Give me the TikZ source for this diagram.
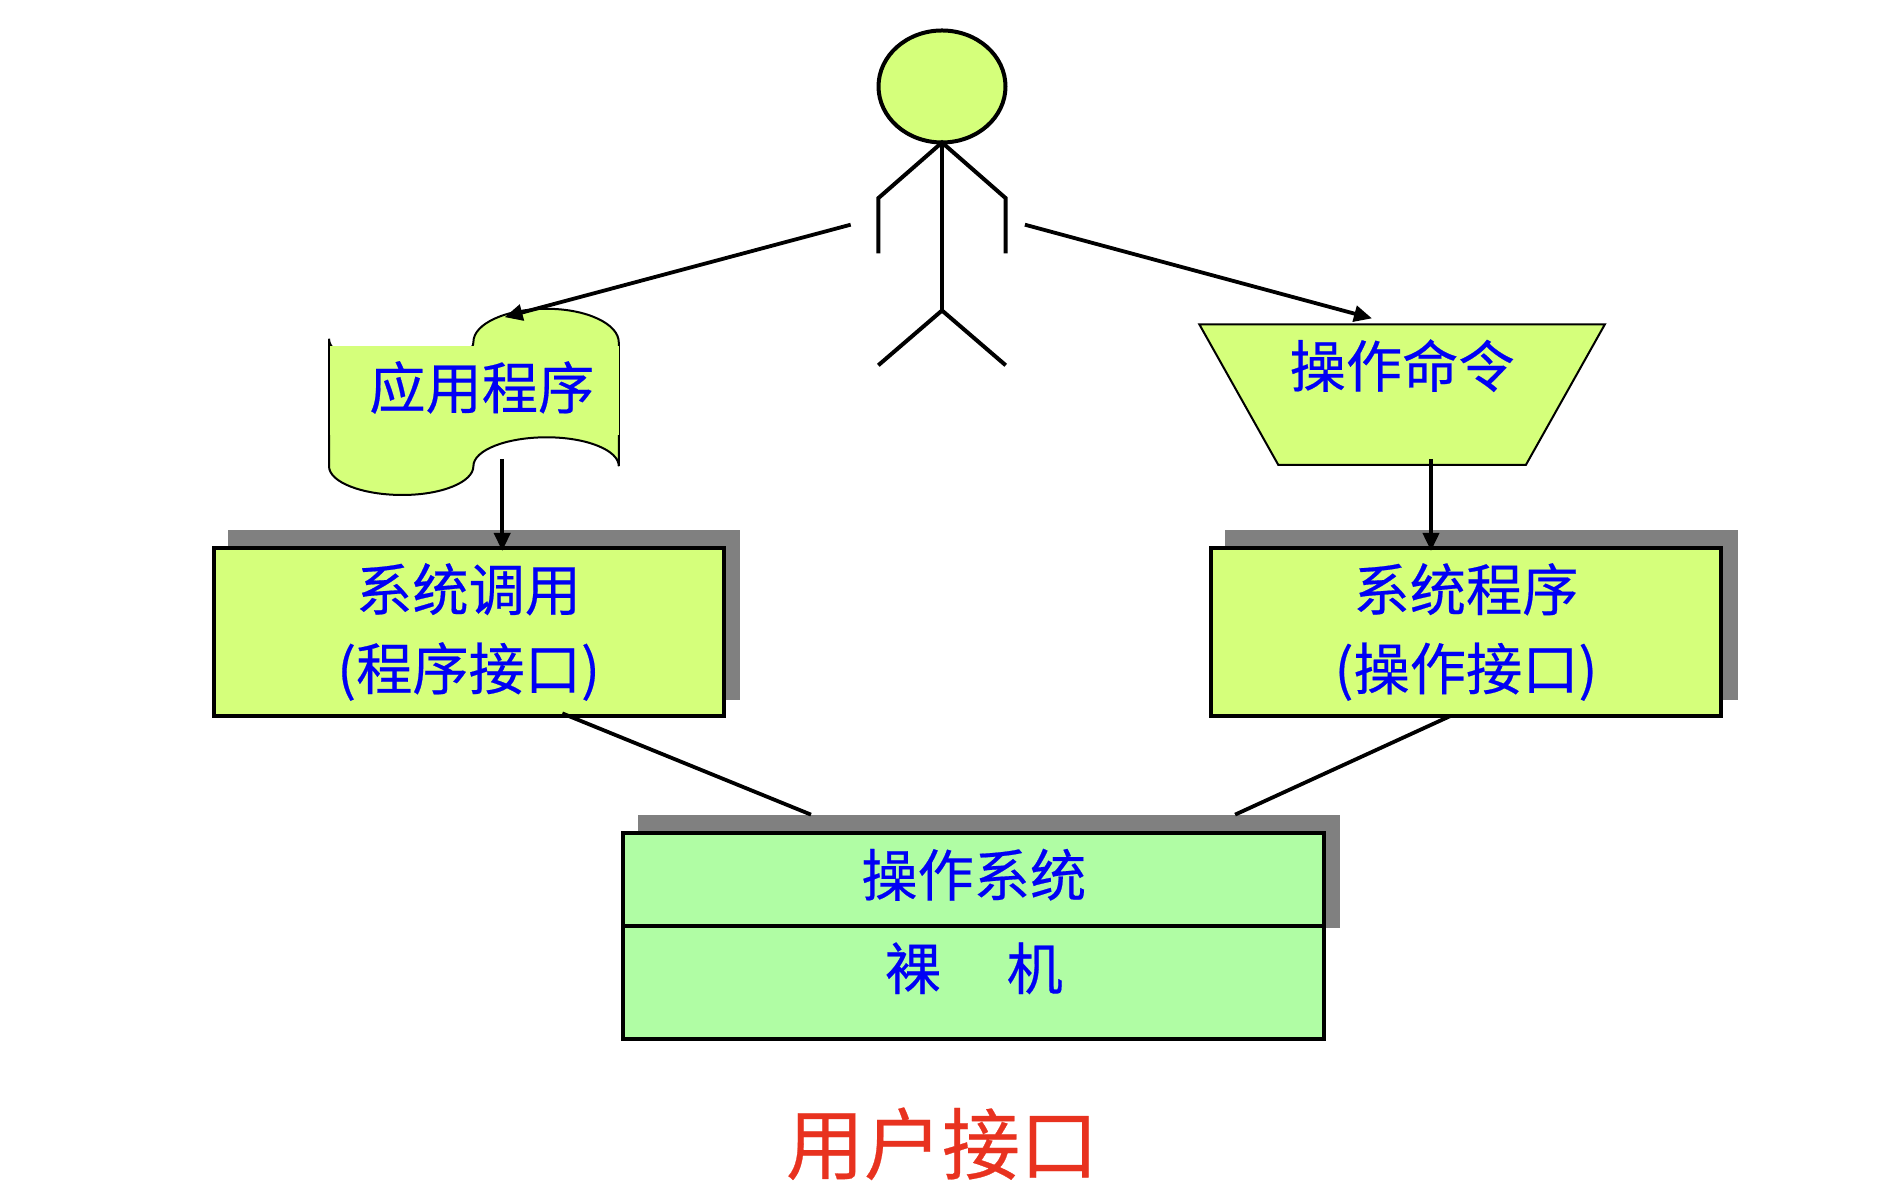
\documentclass[tikz,border=0pt]{standalone}
\usepackage{fontspec}
\setmainfont{Noto Sans CJK SC}[FakeBold=0.35]
\usetikzlibrary{positioning,arrows.meta,calc,backgrounds,shapes.geometric}

\definecolor{limefill}{HTML}{D5FF7B}
\definecolor{osgreen}{HTML}{B0FDA4}
\definecolor{labelblue}{HTML}{0000F5}
\definecolor{titlered}{HTML}{E8321F}

\begin{document}
\begin{tikzpicture}[
    every node/.style={font=\fontsize{16}{22.5}\selectfont, text=labelblue, outer sep=0pt},
    stick/.style={line width=0.04cm},
    box/.style={draw, line width=0.04cm, fill=limefill, align=center, minimum width=5.1cm, minimum height=1.68cm},
    osbox/.style={draw, line width=0.04cm, fill=osgreen, minimum width=7.01cm},
    thinline/.style={draw=black, line width=0.02cm, fill=limefill},
    backshadow/.style={fill=black!50},
    arr/.style={-{Triangle[length=0.18cm,width=0.16cm]}, line width=0.038cm},
    link/.style={line width=0.038cm}
  ]
    \useasboundingbox (0,0) rectangle (18.84,11.98);

    % stick figure
    \node[draw, stick, ellipse, fill=limefill, inner sep=0pt, minimum width=1.27cm, minimum height=1.12cm] (head) at (9.42,11.115) {};
    \coordinate (hip) at ($(head.south)+(0,-1.68)$);
    \draw[stick] (head.south) -- (hip);
    \draw[stick] (8.783,9.445) -- (8.783,9.998) -- (head.south) -- (10.057,9.998) -- (10.057,9.445);
    \draw[stick] (8.783,8.327) -- (hip) -- (10.057,8.327);

    % wavy sheet, its label hides part of the outline
    \draw[thinline] (3.29,8.592)
      arc[start angle=180, end angle=270, x radius=.735, y radius=.29]
      arc[start angle=270, end angle=360, x radius=.709, y radius=.258]
      arc[start angle=180, end angle=90, x radius=.733, y radius=.332]
      arc[start angle=90, end angle=0, x radius=.721, y radius=.336]
      -- (6.188,7.318)
      arc[start angle=0, end angle=90, x radius=.721, y radius=.289]
      arc[start angle=90, end angle=180, x radius=.733, y radius=.289]
      arc[start angle=0, end angle=-90, x radius=.709, y radius=.288]
      arc[start angle=270, end angle=180, x radius=.735, y radius=.288]
      -- cycle;
    \node[fill=limefill, inner sep=0pt, minimum width=2.89cm, minimum height=.89cm] (app) at (4.74,8.075) {\raisebox{.11cm}{\hspace*{.156cm}应用程序}};

    % command panel
    \node[thinline, trapezium, shape border rotate=180, trapezium left angle=68, trapezium right angle=68,
      trapezium stretches=true, minimum width=4.06cm, minimum height=1.406cm, inner sep=0pt] (cmd) at (14.021,8.033) {\phantom{口}};
    \node (cmdtext) at ($(cmd.center)+(0,.29)$) {操作命令};

    \node[box] (syscall) at (4.686,5.66) {系统调用\\(程序接口)};
    \node[box, right=4.874cm of syscall] (sysprog) {系统程序\\(操作接口)};

    \node[osbox, minimum height=.937cm] (os) at (9.738,3.185) {\raisebox{.14cm}{操作系统}};
    \node[osbox, minimum height=1.129cm, below=0pt of os] (hw) {};
    \node (hwtext) at ($(hw.center)+(0,.145)$) {裸\hspace{1.17em}机};

    \node[text=titlered, font=\fontsize{22.2}{26}\selectfont] (title) at (9.42,.542) {用户接口};

    % shadows sit behind the boxes
    \begin{scope}[on background layer]
      \fill[backshadow] ($(syscall.south west)+(.144,.156)$) rectangle ($(syscall.north east)+(.168,.18)$);
      \fill[backshadow] ($(sysprog.south west)+(.144,.156)$) rectangle ($(sysprog.north east)+(.168,.18)$);
      \fill[backshadow] ($(os.south west)+(.144,-.012)$) rectangle ($(os.north east)+(.157,.18)$);
    \end{scope}

    \coordinate (armL) at (8.507,9.733);
    \coordinate (armR) at (10.249,9.733);
    \coordinate (appin) at (5.046,8.808);
    \coordinate (cmdin) at (13.72,8.796);
    \coordinate (appout) at (5.022,7.39);
    \coordinate (cmdout) at (14.31,7.39);
    \coordinate (callout) at ($(syscall.south)+(.937,.026)$);
    \coordinate (progout) at ($(sysprog.south)+(-.156,0)$);
    \coordinate (osinL) at ($(os.north)+(-1.628,.18)$);
    \coordinate (osinR) at ($(os.north)+(2.613,.18)$);

    \draw[arr] (armL) -- (appin);
    \draw[arr] (armR) -- (cmdin);
    \draw[arr] (appout) -- ($(appout |- syscall.north)+(0,-.03)$);
    \draw[arr] (cmdout) -- ($(cmdout |- sysprog.north)+(0,-.03)$);
    \draw[link] (callout) -- (osinL);
    \draw[link] (progout) -- (osinR);
  \end{tikzpicture}
\end{document}
